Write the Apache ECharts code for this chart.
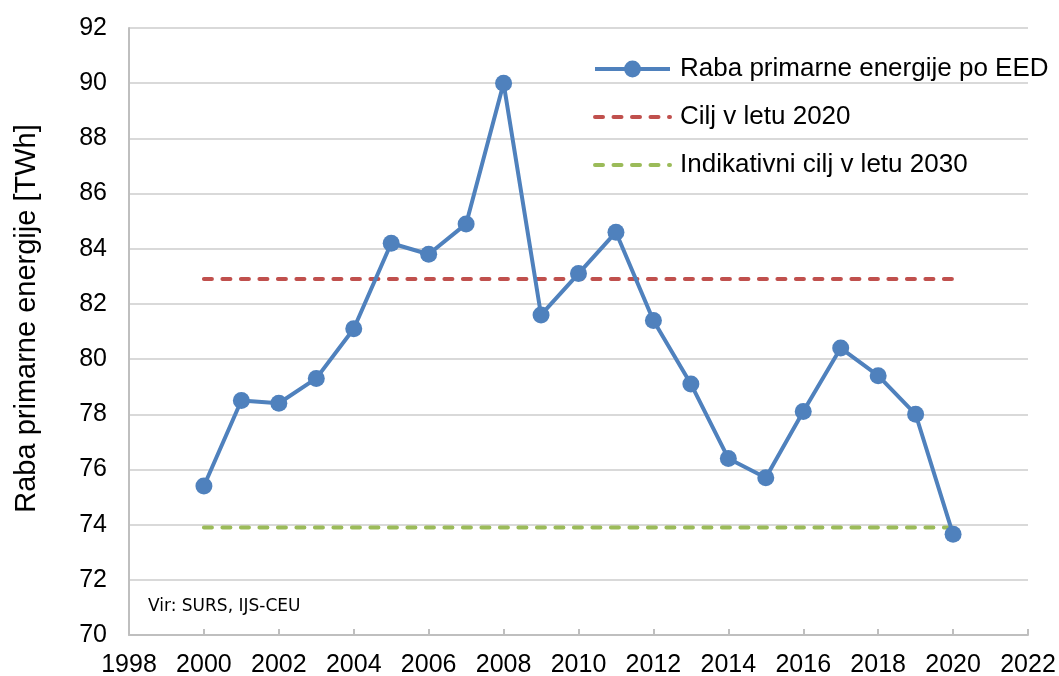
<!DOCTYPE html>
<html>
<head>
<meta charset="utf-8">
<script src="https://cdn.jsdelivr.net/npm/echarts@6/dist/echarts.min.js"></script>
<style>
  html, body { margin: 0; padding: 0; background: #fff; }
  #chart { width: 1059px; height: 676px; }
</style>
</head>
<body>
<div id="chart"></div>
<script>
const years = [2000, 2001, 2002, 2003, 2004, 2005, 2006, 2007, 2008, 2009, 2010,
  2011, 2012, 2013, 2014, 2015, 2016, 2017, 2018, 2019, 2020]
const rabaValues = [75.4, 78.5, 78.4, 79.3, 81.1, 84.2, 83.8, 84.9, 90.0, 81.6, 83.1,
  84.6, 81.4, 79.1, 76.4, 75.7, 78.1, 80.4, 79.4, 78.0, 73.65]
const cilj2020 = 82.9
const cilj2030 = 73.9
const targetYears = [2000, 2020]
const seriesNames = ['Raba primarne energije po EED', 'Cilj v letu 2020', 'Indikativni cilj v letu 2030']

const font = 'Liberation Sans, Arial, sans-serif'
const dash = [8, 10.5]

const chart = echarts.init(document.getElementById('chart'))
chart.setOption({
  animation: false,
  textStyle: { fontFamily: font },
  grid: { left: 129, right: 31, top: 28, bottom: 41, outerBoundsMode: 'none' },
  legend: {
    data: [
      { name: seriesNames[0] },
      { name: seriesNames[1], itemStyle: { opacity: 0 } },
      { name: seriesNames[2], itemStyle: { opacity: 0 } }
    ],
    orient: 'vertical',
    left: 593,
    top: 56,
    padding: 0,
    itemWidth: 75,
    itemHeight: 21,
    itemGap: 22,
    lineStyle: { width: 4 },
    textStyle: { fontSize: 26, color: '#000', fontFamily: font, padding: [0, 0, 0, 5] }
  },
  xAxis: {
    type: 'value',
    min: 1998,
    max: 2022,
    interval: 2,
    axisLine: { lineStyle: { color: '#bfbfbf', width: 2 } },
    axisTick: { show: true, inside: true, length: 6, lineStyle: { color: '#bfbfbf', width: 2 } },
    splitLine: { show: false },
    axisLabel: { fontSize: 25, color: '#000', margin: 18, fontFamily: font, formatter: v => String(v) }
  },
  yAxis: {
    type: 'value',
    min: 70,
    max: 92,
    interval: 2,
    name: 'Raba primarne energije [TWh]',
    nameLocation: 'middle',
    nameGap: 88,
    nameTextStyle: { fontSize: 29, color: '#000', fontFamily: font, padding: [0, 0, 0, 26] },
    axisLine: { show: true, lineStyle: { color: '#bfbfbf', width: 2 } },
    axisTick: { show: false },
    splitLine: { lineStyle: { color: '#d9d9d9', width: 2 } },
    axisLabel: { fontSize: 25, color: '#000', margin: 22, fontFamily: font }
  },
  graphic: [{
    type: 'text',
    left: 148,
    top: 598,
    style: { text: 'Vir: SURS, IJS-CEU', font: '17px "DejaVu Sans", Tahoma, sans-serif', fill: '#000' }
  }],
  series: [
    {
      name: seriesNames[0],
      type: 'line',
      z: 5,
      data: years.map((y, i) => [y, rabaValues[i]]),
      symbol: 'circle',
      symbolSize: 17,
      itemStyle: { color: '#4f81bd' },
      lineStyle: { color: '#4f81bd', width: 4 }
    },
    {
      name: seriesNames[1],
      type: 'line',
      z: 3,
      data: targetYears.map(y => [y, cilj2020]),
      symbol: 'none',
      itemStyle: { color: '#c0504d' },
      lineStyle: { color: '#c0504d', width: 4, type: dash, cap: 'round' }
    },
    {
      name: seriesNames[2],
      type: 'line',
      z: 3,
      data: targetYears.map(y => [y, cilj2030]),
      symbol: 'none',
      itemStyle: { color: '#9bbb59' },
      lineStyle: { color: '#9bbb59', width: 4, type: dash, cap: 'round' }
    }
  ]
})
</script>
</body>
</html>
